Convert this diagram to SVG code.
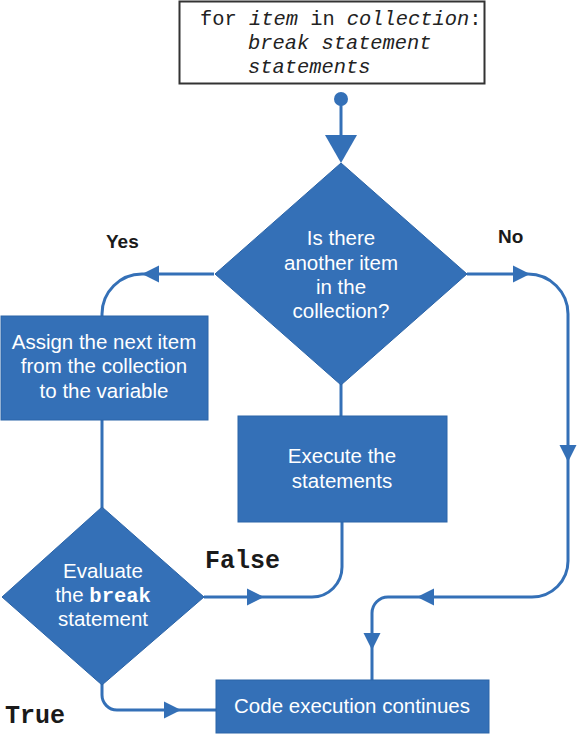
<svg xmlns="http://www.w3.org/2000/svg" xmlns:xlink="http://www.w3.org/1999/xlink" width="580" height="734" viewBox="0 0 580 734">
<defs>
<style>
.box{fill:#3470b7;stroke:#2b64a8;stroke-width:1}
.lbl{font-family:"Liberation Sans",Arial,sans-serif;font-size:20.5px;fill:#ffffff;text-anchor:middle}
.code{font-family:"Liberation Mono","Courier New",monospace;font-size:20.4px;fill:#222}
.it{font-style:italic}
.cap{font-family:"Liberation Sans",Arial,sans-serif;font-size:19px;font-weight:bold;fill:#1a1a1a}
.mono{font-family:"Liberation Mono","Courier New",monospace;font-size:25px;font-weight:bold;fill:#1a1a1a}
.ln{fill:none;stroke:#3470b7;stroke-width:3}
.ah{fill:#3470b7}
</style>
<path id="ah" d="M0,0 L-17,-8.5 L-17,8.5 Z"/>
</defs>
<rect width="580" height="734" fill="#ffffff"/>

<g id="code-box">
<rect x="179.5" y="1.5" width="305" height="82" fill="#ffffff" stroke="#333" stroke-width="2"/>
<text class="code" x="200" y="25">for <tspan class="it">item</tspan> in <tspan class="it">collection</tspan>:</text>
<text class="code it" x="248" y="49">break statement</text>
<text class="code it" x="248" y="73">statements</text>
</g>

<g id="connectors">
<circle cx="341" cy="99" r="7" class="ah"/>
<path class="ln" d="M341,99 V140"/>
<path class="ah" d="M341,163 L325,135 L357,135 Z"/>
<path class="ln" d="M214,274 H142 A40,40 0 0 0 102,314 V316"/>
<path class="ln" d="M102,420 V508"/>
<path class="ln" d="M341,384 V416"/>
<path class="ln" d="M204,597 H312 A30,30 0 0 0 342,567 V522"/>
<path class="ln" d="M467,274 H528 A40,40 0 0 1 568,314 V561 A36,36 0 0 1 532,597 H388 A16,16 0 0 0 372,613 V680"/>
<path class="ln" d="M102,684 V695 A15,15 0 0 0 117,710 H216"/>
<use xlink:href="#ah" class="ah" transform="translate(142,274) rotate(180)"/>
<use xlink:href="#ah" class="ah" transform="translate(530,274)"/>
<use xlink:href="#ah" class="ah" transform="translate(568,462) rotate(90)"/>
<use xlink:href="#ah" class="ah" transform="translate(417,597) rotate(180)"/>
<use xlink:href="#ah" class="ah" transform="translate(372,650) rotate(90)"/>
<use xlink:href="#ah" class="ah" transform="translate(264,597)"/>
<use xlink:href="#ah" class="ah" transform="translate(181,710)"/>
</g>

<g id="decision-more">
<polygon class="box" points="341,163 467,274 341,385 215,274"/>
<text class="lbl" x="341" y="245">Is there</text>
<text class="lbl" x="341" y="270">another item</text>
<text class="lbl" x="341" y="294">in the</text>
<text class="lbl" x="341" y="318">collection?</text>
</g>

<g id="assign">
<rect class="box" x="1" y="316" width="207" height="104"/>
<text class="lbl" x="104" y="349">Assign the next item</text>
<text class="lbl" x="104" y="373">from the collection</text>
<text class="lbl" x="104" y="398">to the variable</text>
</g>

<g id="execute">
<rect class="box" x="238" y="416" width="209" height="106"/>
<text class="lbl" x="342" y="463">Execute the</text>
<text class="lbl" x="342" y="488">statements</text>
</g>

<g id="evaluate">
<polygon class="box" points="102,507 204,597 102,685 2,597"/>
<text class="lbl" x="103" y="578">Evaluate</text>
<text class="lbl" x="103" y="602">the <tspan font-family="Liberation Mono,Courier New,monospace" font-weight="bold">break</tspan></text>
<text class="lbl" x="103" y="626">statement</text>
</g>

<g id="continue">
<rect class="box" x="216" y="680" width="273" height="53"/>
<text class="lbl" x="352" y="713">Code execution continues</text>
</g>

<g id="labels">
<text class="cap" x="106" y="248">Yes</text>
<text class="cap" x="498" y="243">No</text>
<text class="mono" x="205" y="568">False</text>
<text class="mono" x="5" y="723">True</text>
</g>
</svg>
